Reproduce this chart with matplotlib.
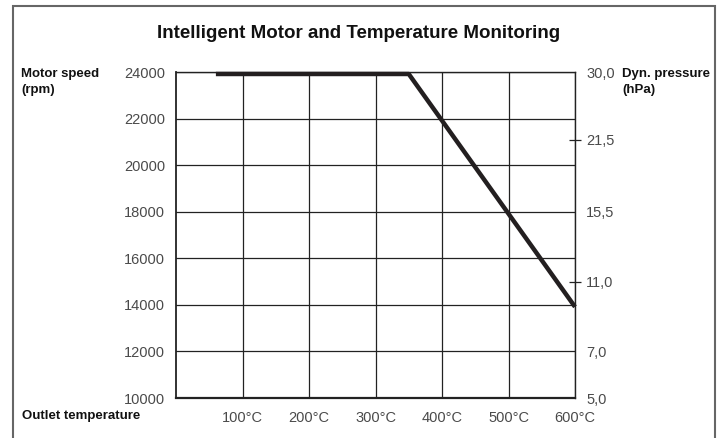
import matplotlib
matplotlib.use("Agg")
import matplotlib.pyplot as plt
import matplotlib.transforms as mtransforms
from matplotlib.patches import Rectangle

# data
temp = [60, 350, 600]                 # outlet temperature (degC)
speed = [24000, 24000, 14000]         # motor speed (rpm)

x_ticks = [100, 200, 300, 400, 500, 600]
x_labels = ["100°C", "200°C", "300°C", "400°C", "500°C", "600°C"]
y_ticks = [10000, 12000, 14000, 16000, 18000, 20000, 22000, 24000]

# dyn. pressure scale on the right (non-linear, placed in rpm units)
p_pos_plain = [24000, 18000, 12000, 10000]
p_lab_plain = ["30,0", "15,5", "7,0", "5,0"]
p_pos_tick = [21100, 15000]
p_lab_tick = ["21,5", "11,0"]

plt.rcParams['font.family'] = ['Liberation Sans', 'DejaVu Sans']
gray = "#4a4a4a"
ink = "#231f20"

fig = plt.figure(figsize=(7.18, 4.38), dpi=100)
ax = fig.add_axes([176/718, 1-398/438, 399/718, 326/438])

# thick curve sits just under the top border, like in the print
shift = mtransforms.offset_copy(ax.transData, fig=fig, x=0, y=-2, units='dots')
ax.plot(temp, speed, color=ink, lw=3.2, solid_capstyle='butt', zorder=5,
        transform=shift, clip_on=False)

ax.set_xlim(0, 600)
ax.set_ylim(10000, 24000)
ax.set_xticks(x_ticks)
ax.set_xticklabels(x_labels)
ax.set_yticks(y_ticks)
ax.grid(True, color="#222222", lw=0.9)
ax.tick_params(length=0, labelsize=10.5, colors=gray, pad=8)
ax.tick_params(axis='x', pad=9)
for s in ax.spines.values():
    s.set_color("#222222")
    s.set_linewidth(1.0)
ax.spines['bottom'].set_linewidth(1.6)
ax.spines['left'].set_linewidth(1.3)

ax2 = ax.twinx()
ax2.set_ylim(ax.get_ylim())
ax2.set_yticks(p_pos_plain)
ax2.set_yticklabels(p_lab_plain)
ax2.set_yticks(p_pos_tick, minor=True)
ax2.set_yticklabels(p_lab_tick, minor=True)
ax2.tick_params(which='major', length=0, labelsize=10.5, colors=gray, pad=8)
ax2.tick_params(which='minor', length=9, width=0.9, direction='inout',
                color="#222222", labelsize=10.5, labelcolor=gray, pad=3.5)
for s in ax2.spines.values():
    s.set_visible(False)

fig.text(0.5, 1-34/438, "Intelligent Motor and Temperature Monitoring",
         ha='center', va='center', fontsize=13.5, fontweight='bold', color="#111111")
fig.text(21/718, 1-68/438, "Motor speed\n(rpm)", ha='left', va='top',
         fontsize=9.5, fontweight='bold', color="#111111", linespacing=1.5)
fig.text(622/718, 1-68/438, "Dyn. pressure\n(hPa)", ha='left', va='top',
         fontsize=9.5, fontweight='bold', color="#111111", linespacing=1.5)
fig.text(22/718, 1-416/438, "Outlet temperature", ha='left', va='center',
         fontsize=9.5, fontweight='bold', color="#111111")

# outer frame
fig.patches.append(Rectangle((13/718, -0.05), 702/718, 1.05 - 6/438,
                             transform=fig.transFigure, fill=False,
                             edgecolor="#666666", lw=1.5))

fig.savefig("out.png", dpi=100)
